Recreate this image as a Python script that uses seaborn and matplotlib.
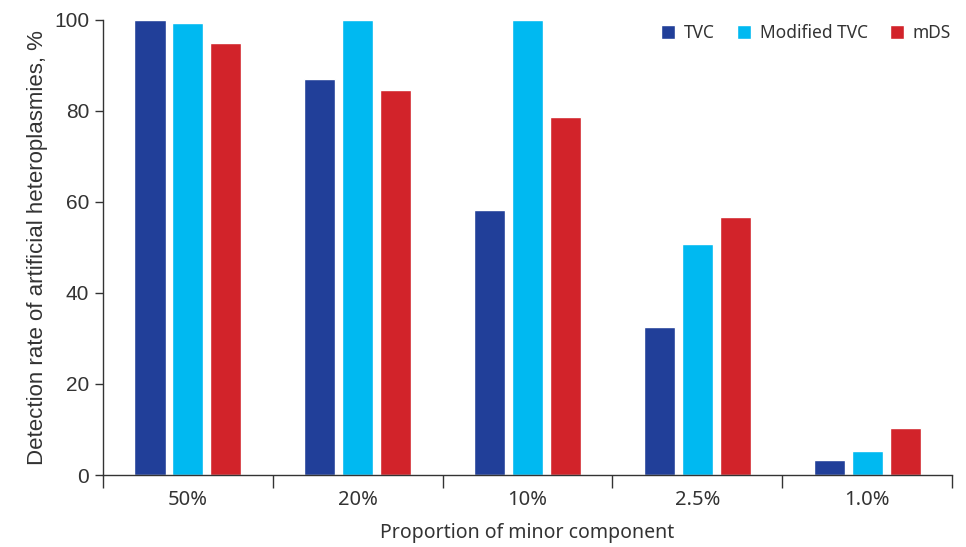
import pandas as pd
import matplotlib.pyplot as plt
import seaborn as sns

# datos
proporciones = ["50%", "20%", "10%", "2.5%", "1.0%"]
metodos = ["TVC", "Modified TVC", "mDS"]
tvc = [100, 87, 58.2, 32.6, 3.3]
tvc_modificado = [99.3, 100, 100, 50.7, 5.3]
mds = [94.9, 84.5, 78.7, 56.7, 10.4]
colores = ["#213F99", "#00B9F1", "#D2232A"]

df = pd.DataFrame({
    "proporcion": proporciones * 3,
    "metodo": [m for m in metodos for _ in proporciones],
    "tasa": tvc + tvc_modificado + mds,
})

sns.set_style("ticks")
plt.rcParams["font.family"] = ["Liberation Sans", "DejaVu Sans"]
fuente_x = ["Noto Sans", "DejaVu Sans"]

fig = plt.figure(figsize=(9.66, 5.47), dpi=100)
ax = fig.add_axes([0.1066, 0.1316, 0.879, 0.832])

sns.barplot(data=df, x="proporcion", y="tasa", hue="metodo", order=proporciones,
            hue_order=metodos, palette=colores, saturation=1, width=0.67, gap=0.18, ax=ax)

gris = "#333333"
ax.set_xlim(-0.5, len(proporciones) - 0.5)
ax.set_ylim(0, 100)
ax.set_yticks([0, 20, 40, 60, 80, 100])
ax.tick_params(axis="y", labelsize=15, colors=gris, length=6, width=1, pad=4)

# ticks en los limites de cada categoria, etiquetas en el centro
ax.set_xticks([i - 0.5 for i in range(len(proporciones) + 1)])
ax.set_xticklabels([])
ax.tick_params(axis="x", which="major", length=9, width=1, colors=gris)
ax.set_xticks(range(len(proporciones)), minor=True)
ax.set_xticklabels(proporciones, minor=True, fontsize=14.5, color=gris, family=fuente_x)
ax.tick_params(axis="x", which="minor", length=0, pad=11)

ax.set_xlabel("Proportion of minor component", fontsize=14, color=gris,
              family=fuente_x, labelpad=9)
ax.set_ylabel("Detection rate of artificial heteroplasmies, %", fontsize=16, color=gris, labelpad=4)

for lado in ["top", "right"]:
    ax.spines[lado].set_visible(False)
for lado in ["left", "bottom"]:
    ax.spines[lado].set_color(gris)
    ax.spines[lado].set_linewidth(1)

ax.legend(loc="upper right", bbox_to_anchor=(1.017, 1.025), ncol=3, frameon=False,
          handlelength=0.8, handleheight=0.8, handletextpad=0.5, columnspacing=1.3,
          prop={"family": fuente_x, "size": 12.5}, labelcolor=gris)

fig.savefig("out.png", dpi=100)
